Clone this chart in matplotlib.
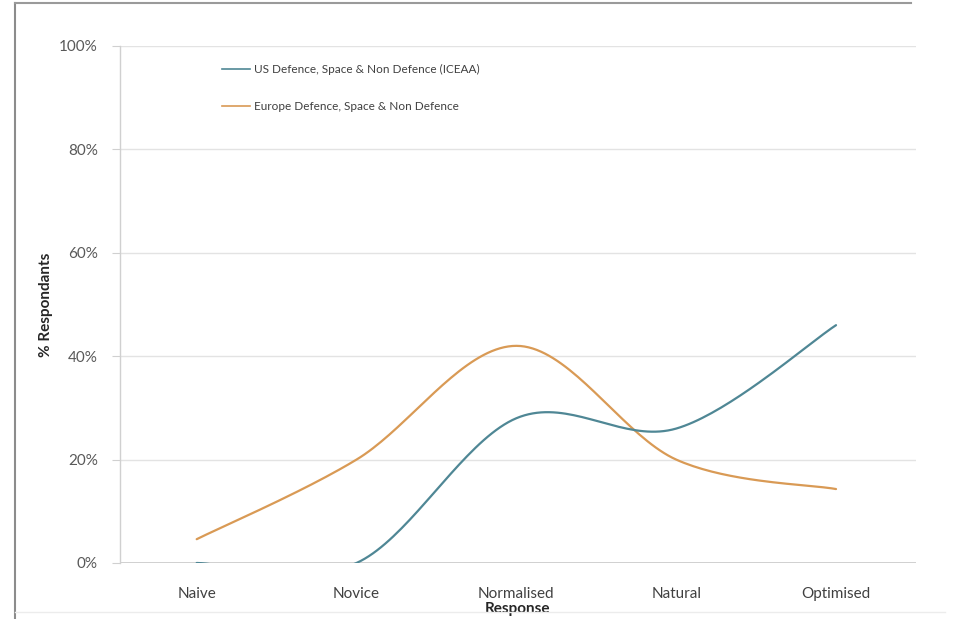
import numpy as np
import matplotlib.pyplot as plt
from matplotlib.lines import Line2D

categories = ["Naive", "Novice", "Normalised", "Natural", "Optimised"]
us_pct = [0, 0, 28, 26, 46]
europe_pct = [4.6, 20, 42, 20, 14.3]
y_ticks = [0, 20, 40, 60, 80, 100]

us_label = "US Defence, Space & Non Defence (ICEAA)"
europe_label = "Europe Defence, Space & Non Defence"
us_color = "#4f8795"
europe_color = "#d99a55"

plt.rcParams["font.family"] = ["Lato", "DejaVu Sans"]


def smooth_curve(xs, ys, steps=40):
    # Excel style smoothed line: cubic bezier between points, control points from neighbours
    xs = np.asarray(xs, float)
    ys = np.asarray(ys, float)
    px = np.concatenate([[xs[0]], xs, [xs[-1]]])
    py = np.concatenate([[ys[0]], ys, [ys[-1]]])
    out_x, out_y = [], []
    t = np.linspace(0, 1, steps)
    for i in range(1, len(px) - 2):
        p0 = np.array([px[i], py[i]])
        p3 = np.array([px[i + 1], py[i + 1]])
        c1 = p0 + (p3 - np.array([px[i - 1], py[i - 1]])) / 6
        c2 = p3 - (np.array([px[i + 2], py[i + 2]]) - p0) / 6
        b = ((1 - t) ** 3)[:, None] * p0 + (3 * (1 - t) ** 2 * t)[:, None] * c1 \
            + (3 * (1 - t) * t ** 2)[:, None] * c2 + (t ** 3)[:, None] * p3
        out_x.extend(b[:, 0])
        out_y.extend(b[:, 1])
    return np.array(out_x), np.array(out_y)


fig = plt.figure(figsize=(9.59, 6.19), dpi=100)
ax = fig.add_axes([0.1251, 0.0905, 0.830, 0.8352])

x = np.arange(len(categories))
for vals, col in [(europe_pct, europe_color), (us_pct, us_color)]:
    sx, sy = smooth_curve(x, vals)
    ax.plot(sx, sy, color=col, linewidth=1.6, solid_capstyle="round")

ax.set_xlim(-0.48, 4.5)
ax.set_ylim(0, 100)
ax.set_yticks(y_ticks)
ax.set_yticklabels([f"{v}%" for v in y_ticks])
ax.set_xticks(x)
ax.set_xticklabels(categories)

for v in y_ticks[1:]:
    ax.axhline(v, color="#e3e3e3", linewidth=1.0, zorder=0)
ax.axhline(0, color="#c8c8c8", linewidth=1.2, zorder=1)

for side in ["top", "right", "bottom"]:
    ax.spines[side].set_visible(False)
ax.spines["left"].set_color("#d0d0d0")
ax.spines["left"].set_linewidth(1.0)

ax.tick_params(axis="y", length=6, color="#d0d0d0", labelsize=11, labelcolor="#595959", pad=10)
ax.tick_params(axis="x", length=0, labelsize=11, labelcolor="#404040", pad=17)

ax.set_xlabel("Response", fontsize=11, fontweight="bold", color="#262626", labelpad=1)
ax.set_ylabel("% Respondants", fontsize=11, fontweight="bold", color="#262626", labelpad=4)

handles = [Line2D([], [], color=us_color, linewidth=1.2),
           Line2D([], [], color=europe_color, linewidth=1.2)]
ax.legend(handles, [us_label, europe_label], loc="upper left",
          bbox_to_anchor=(0.115, 0.985), frameon=False, fontsize=8.5,
          handlelength=2.4, handletextpad=0.3, labelspacing=2.2,
          labelcolor="#404040")

# outer chart frame
fig.add_artist(Line2D([0.0157, 0.0157], [0.0, 0.995], transform=fig.transFigure,
                      color="#8c8c8c", linewidth=1.5))
fig.add_artist(Line2D([0.0157, 0.95], [0.995, 0.995], transform=fig.transFigure,
                      color="#9a9a9a", linewidth=1.5))
fig.add_artist(Line2D([0.0157, 0.985], [0.012, 0.012], transform=fig.transFigure,
                      color="#ececec", linewidth=1.0))

fig.savefig("out.png", dpi=100)
